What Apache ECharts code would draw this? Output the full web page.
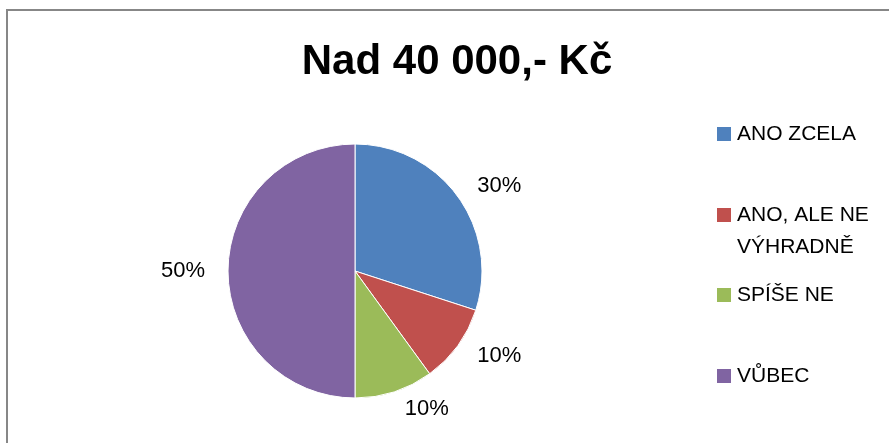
<!DOCTYPE html>
<html>
<head>
<meta charset="utf-8">
<script src="https://cdn.jsdelivr.net/npm/echarts@6/dist/echarts.min.js"></script>
<style>
  html, body { margin: 0; padding: 0; background: #fff; }
</style>
</head>
<body>
<div id="pieChart" style="width:889px; height:443px;"></div>
<script>
// data
var categories = ['ANO ZCELA', 'ANO, ALE NE VÝHRADNĚ', 'SPÍŠE NE', 'VŮBEC'];
// leading empty line keeps the square level with the first text line
var legendLabels = ['ANO ZCELA', '\nANO, ALE NE\nVÝHRADNĚ', 'SPÍŠE NE', 'VŮBEC'];
var shares = [30, 10, 10, 50];
var colors = ['#4F81BD', '#C0504D', '#9BBB59', '#8064A2'];
var legendRowY = [134, 215, 295, 376]; // centre of each legend square

var font = '"Liberation Sans", Arial, sans-serif';

var pieData = [];
for (var i = 0; i < categories.length; i++) {
  pieData.push({ name: categories[i], value: shares[i], itemStyle: { color: colors[i] } });
}

// one legend per entry, rows spaced like the original
var legends = [];
for (var j = 0; j < categories.length; j++) {
  var multi = legendLabels[j].indexOf('\n') >= 0;
  var lh = multi ? 32 : 24;
  var boxH = multi ? lh * 3 : lh;
  legends.push({
    data: [categories[j]],
    left: 715,
    top: legendRowY[j] - boxH / 2,
    padding: 0,
    itemWidth: 16,
    itemHeight: 16,
    itemGap: 0,
    selectedMode: false,
    icon: 'rect',
    formatter: (function (k) { return function () { return legendLabels[k]; }; })(j),
    textStyle: {
      fontFamily: font,
      fontSize: 21,
      color: '#000',
      lineHeight: lh
    }
  });
}

var myChart = echarts.init(document.getElementById('pieChart'));
myChart.setOption({
  animation: false,
  title: {
    text: 'Nad 40 000,- Kč',
    left: 452,
    textAlign: 'center',
    top: 36,
    textStyle: { fontFamily: font, fontSize: 42, fontWeight: 'bold', color: '#000' }
  },
  graphic: [{
    type: 'rect',
    shape: { x: 7, y: 10, width: 1000, height: 1000 },
    style: { fill: 'none', stroke: '#878787', lineWidth: 2 },
    silent: true
  }],
  legend: legends,
  series: [{
    type: 'pie',
    center: [355, 271],
    radius: 127,
    startAngle: 90,
    clockwise: true,
    itemStyle: { borderColor: '#fff', borderWidth: 1 },
    label: {
      show: true,
      position: 'outside',
      formatter: '{d}%',
      fontFamily: font,
      fontSize: 22,
      color: '#000'
    },
    labelLine: { show: false, length: 18, length2: 0 },
    emphasis: { disabled: true },
    data: pieData
  }]
});
</script>
</body>
</html>
